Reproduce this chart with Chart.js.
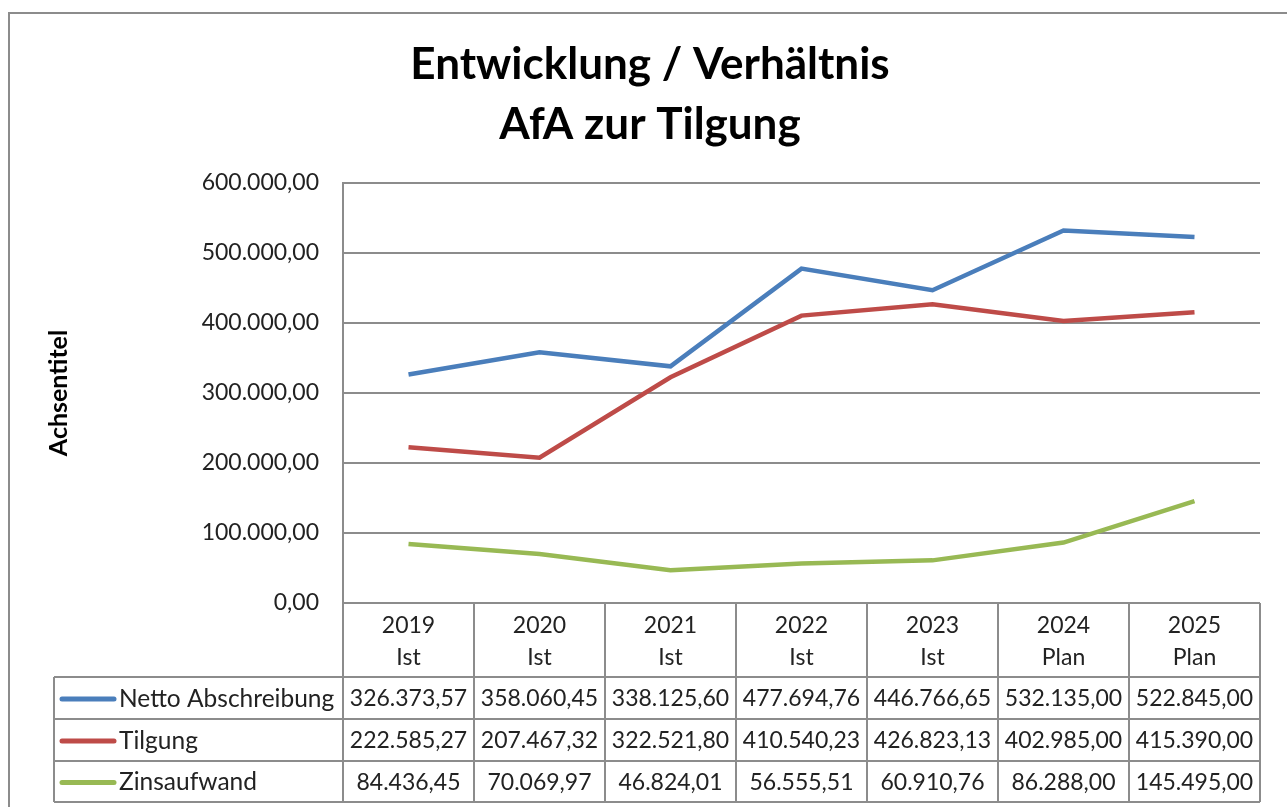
<!DOCTYPE html>
<html>
<head>
<meta charset="utf-8">
<script src="https://cdn.jsdelivr.net/npm/chart.js@4"></script>
<style>
  html, body { margin: 0; padding: 0; background: #fff; }
  #wrap { width: 1287px; height: 807px; }
</style>
</head>
<body>
<div id="wrap"><canvas id="chartAfa"></canvas></div>
<script>
const jahre = ['2019', '2020', '2021', '2022', '2023', '2024', '2025'];
const status = ['Ist', 'Ist', 'Ist', 'Ist', 'Ist', 'Plan', 'Plan'];
const nettoAbschreibung = [326373.57, 358060.45, 338125.60, 477694.76, 446766.65, 532135.00, 522845.00];
const tilgung = [222585.27, 207467.32, 322521.80, 410540.23, 426823.13, 402985.00, 415390.00];
const zinsaufwand = [84436.45, 70069.97, 46824.01, 56555.51, 60910.76, 86288.00, 145495.00];
const serienNamen = ['Netto Abschreibung', 'Tilgung', 'Zinsaufwand'];
const farben = ['#4a7ebb', '#be4b48', '#98b954'];

const grau = '#8c8c8c';
const textFarbe = '#222';
const schrift = 'Lato, "Liberation Sans", sans-serif';

function fmt(v) {
    const [ganz, dez] = Math.abs(v).toFixed(2).split('.');
    return ganz.replace(/\B(?=(\d{3})+(?!\d))/g, '.') + ',' + dez;
}

// Rahmen und Datentabelle unter dem Diagramm
const tabellePlugin = {
    id: 'datentabelle',
    beforeDraw(chart) {
        const ctx = chart.ctx;
        ctx.save();
        ctx.strokeStyle = grau;
        ctx.lineWidth = 2;
        ctx.strokeRect(9, 13, 1400, 1000);
        ctx.restore();
    },
    afterDraw(chart) {
        const ctx = chart.ctx;
        const area = chart.chartArea;
        const x = chart.scales.x;
        const breite = (area.right - area.left) / jahre.length;
        const zeilen = [677, 719, 761, 802];
        const links = 54;

        ctx.save();
        ctx.strokeStyle = grau;
        ctx.lineWidth = 2;
        ctx.beginPath();
        for (let i = 0; i <= jahre.length; i++) {
            const px = Math.round(area.left + i * breite);
            ctx.moveTo(px, area.bottom);
            ctx.lineTo(px, zeilen[3]);
        }
        zeilen.forEach(y => {
            ctx.moveTo(links, y);
            ctx.lineTo(area.right, y);
        });
        ctx.moveTo(links, zeilen[0]);
        ctx.lineTo(links, zeilen[3]);
        ctx.stroke();

        const reihen = [nettoAbschreibung, tilgung, zinsaufwand];
        ctx.fillStyle = textFarbe;
        ctx.textBaseline = 'middle';
        reihen.forEach((werte, r) => {
            const mitte = (zeilen[r] + zeilen[r + 1]) / 2 + 1;
            ctx.strokeStyle = farben[r];
            ctx.lineWidth = 5;
            ctx.lineCap = 'round';
            ctx.beginPath();
            ctx.moveTo(62, mitte);
            ctx.lineTo(114, mitte);
            ctx.stroke();
            ctx.font = '24.5px ' + schrift;
            ctx.textAlign = 'left';
            ctx.fillText(serienNamen[r], 119, mitte);
            ctx.font = '23px ' + schrift;
            ctx.textAlign = 'center';
            werte.forEach((v, i) => {
                ctx.fillText(fmt(v), x.getPixelForValue(i), mitte);
            });
        });
        ctx.restore();
    }
};

new Chart(document.getElementById('chartAfa'), {
    type: 'line',
    data: {
        labels: jahre.map((j, i) => [j, status[i]]),
        datasets: [
            { label: serienNamen[0], data: nettoAbschreibung, borderColor: farben[0] },
            { label: serienNamen[1], data: tilgung, borderColor: farben[1] },
            { label: serienNamen[2], data: zinsaufwand, borderColor: farben[2] }
        ].map(d => Object.assign(d, { borderWidth: 4.5, pointRadius: 0, tension: 0, fill: false }))
    },
    options: {
        responsive: true,
        maintainAspectRatio: false,
        animation: false,
        layout: { padding: { top: 12, left: 40, right: 27, bottom: 0 } },
        plugins: {
            legend: { display: false },
            tooltip: { enabled: false },
            title: {
                display: true,
                text: ['Entwicklung / Verhältnis', 'AfA zur Tilgung'],
                color: '#000',
                font: { family: schrift, size: 44, weight: 'bold', lineHeight: '60px' },
                padding: { top: 23, bottom: 28 }
            }
        },
        scales: {
            x: {
                offset: true,
                grid: { display: false, drawTicks: false },
                border: { display: false },
                ticks: {
                    color: textFarbe,
                    font: { family: schrift, size: 23, lineHeight: 1.4 },
                    padding: 6,
                    maxRotation: 0,
                    autoSkip: false
                },
                afterFit(scale) { scale.height = 204; }
            },
            y: {
                min: 0,
                max: 600000,
                grid: { color: grau, lineWidth: 2, drawTicks: false },
                border: { display: true, color: grau, width: 2 },
                ticks: {
                    stepSize: 100000,
                    color: textFarbe,
                    font: { family: schrift, size: 23 },
                    padding: 24,
                    callback: v => fmt(v)
                },
                title: {
                    display: true,
                    text: 'Achsentitel',
                    color: '#000',
                    font: { family: schrift, size: 25, weight: 'bold' },
                    padding: { top: 4, bottom: 0 }
                },
                afterFit(scale) { scale.width = 303; }
            }
        }
    },
    plugins: [tabellePlugin]
});
</script>
</body>
</html>
